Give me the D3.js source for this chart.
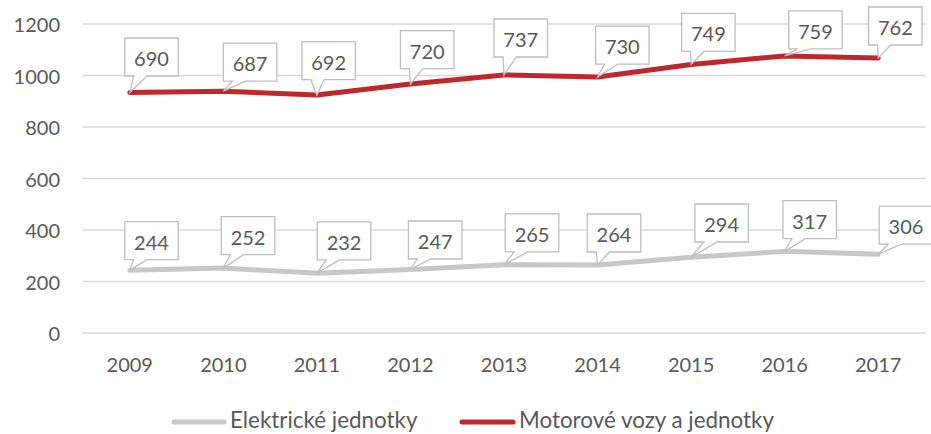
<!DOCTYPE html>
<html>
<head>
<meta charset="utf-8">
<script src="https://cdn.jsdelivr.net/npm/d3@7"></script>
<style>
  html, body { margin: 0; padding: 0; background: #fff; }
  svg { display: block; }
  text { font-family: Lato, "Open Sans", sans-serif; fill: #595959; }
</style>
</head>
<body>
<svg id="chart" width="931" height="434"></svg>
<script>
// ---- data ----
const years = ["2009","2010","2011","2012","2013","2014","2015","2016","2017"];
const elektricke = [244, 252, 232, 247, 265, 264, 294, 317, 306];
const motorove   = [690, 687, 692, 720, 737, 730, 749, 759, 762];
const yTicks = [0, 200, 400, 600, 800, 1000, 1200];
const seriesNames = ["Elektrické jednotky", "Motorové vozy a jednotky"];

// ---- layout (label box offsets relative to data point) ----
const grayLabelOffsets = [[-5,-48.5],[-2,-51.4],[0.4,-51.3],[-2,-48.4],[1.3,-50.8],[-10.3,-51],[3.8,-53.3],[-1.7,-50.7],[1,-48]];
const redLabelOffsets  = [[-5,-54.5],[0,-48],[-15,-53.4],[-10,-53.3],[-10,-56],[-2,-51],[-9.5,-51],[4,-45],[-9.6,-51]];

const colors = { gray: "#c8c8c8", red: "#c0272d", grid: "#d9d9d9", box: "#bfbfbf" };
const plot = { left: 83, right: 925, top: 24, bottom: 333 };

const svg = d3.select("#chart");

const x = d3.scalePoint().domain(years).range([plot.left, plot.right]).padding(0.5);
const y = d3.scaleLinear().domain([0, 1200]).range([plot.bottom, plot.top]);

// stacked values
const stackedRed = motorove.map((v, i) => v + elektricke[i]);

// gridlines
svg.append("g").selectAll("line").data(yTicks).join("line")
  .attr("x1", plot.left).attr("x2", plot.right)
  .attr("y1", d => y(d)).attr("y2", d => y(d))
  .attr("stroke", colors.grid).attr("stroke-width", 1.3);

// y axis labels
svg.append("g").selectAll("text").data(yTicks).join("text")
  .attr("x", 60).attr("y", d => y(d))
  .attr("text-anchor", "end").attr("dominant-baseline", "central")
  .style("font-size", "20px")
  .text(d => d);

// x axis labels
svg.append("g").selectAll("text").data(years).join("text")
  .attr("x", d => x(d)).attr("y", 372)
  .attr("text-anchor", "middle")
  .style("font-size", "20px")
  .text(d => d);

// lines
const line = d3.line().x(d => x(d.year)).y(d => y(d.v));
const grayPts = years.map((yr, i) => ({ year: yr, v: elektricke[i], label: elektricke[i], off: grayLabelOffsets[i] }));
const redPts  = years.map((yr, i) => ({ year: yr, v: stackedRed[i], label: motorove[i], off: redLabelOffsets[i] }));

svg.append("path").datum(grayPts).attr("d", line)
  .attr("fill", "none").attr("stroke", colors.gray).attr("stroke-width", 5)
  .attr("stroke-linejoin", "round").attr("stroke-linecap", "round");
svg.append("path").datum(redPts).attr("d", line)
  .attr("fill", "none").attr("stroke", colors.red).attr("stroke-width", 5)
  .attr("stroke-linejoin", "round").attr("stroke-linecap", "round");

// callout labels
const bw = 53.5, bh = 38;
function callout(g, pts) {
  const grp = g.selectAll("g").data(pts).join("g");
  grp.append("path")
    .attr("d", d => {
      const tx = x(d.year), ty = y(d.v);
      const l = tx + d.off[0], t = ty + d.off[1], r = l + bw, b = t + bh;
      const left = tx < l + bw / 2;
      const xb1 = l + bw * (left ? 2 / 12 : 7 / 12);
      const xb2 = l + bw * (left ? 5 / 12 : 10 / 12);
      return `M${l},${t}H${r}V${b}H${xb2}L${tx},${ty}L${xb1},${b}H${l}Z`;
    })
    .attr("fill", "#fff").attr("stroke", colors.box).attr("stroke-width", 1.3);
  grp.append("text")
    .attr("x", d => x(d.year) + d.off[0] + bw / 2)
    .attr("y", d => y(d.v) + d.off[1] + bh / 2 + 1)
    .attr("text-anchor", "middle").attr("dominant-baseline", "central")
    .style("font-size", "20px")
    .text(d => d.label);
}
callout(svg.append("g"), grayPts);
callout(svg.append("g"), redPts);

// legend
const legend = [
  { name: seriesNames[0], color: colors.gray, x1: 174, x2: 224, tx: 230 },
  { name: seriesNames[1], color: colors.red, x1: 462, x2: 513, tx: 519 }
];
const lg = svg.append("g").selectAll("g").data(legend).join("g");
lg.append("line").attr("x1", d => d.x1).attr("x2", d => d.x2).attr("y1", 422).attr("y2", 422)
  .attr("stroke", d => d.color).attr("stroke-width", 5).attr("stroke-linecap", "round");
lg.append("text").attr("x", d => d.tx).attr("y", 428)
  .style("font-size", "22.4px")
  .text(d => d.name);
</script>
</body>
</html>
